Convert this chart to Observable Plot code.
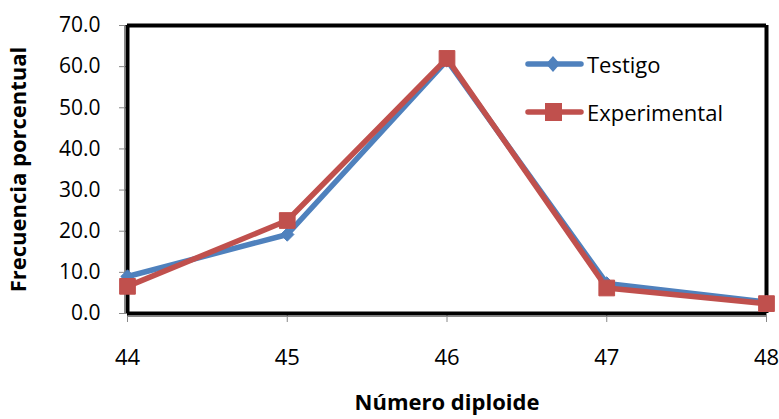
<!DOCTYPE html>
<html><head><meta charset="utf-8">
<script src="https://cdn.jsdelivr.net/npm/d3@7"></script>
<script src="https://cdn.jsdelivr.net/npm/@observablehq/plot@0.6"></script>
<style>
body{margin:0;background:#fff;font-family:"Open Sans",sans-serif;}
#wrap{position:relative;width:779px;height:419px;}
#legend{position:absolute;left:524px;top:40px;font-size:22px;color:#000;font-family:"Open Sans",sans-serif;}
#legend .row{display:flex;align-items:center;height:48px;}
#legend svg{margin-right:2px;}
</style>
</head><body>
<div id="wrap"><div id="chart"></div><div id="legend"></div></div>
<script>
const diploide = [44, 45, 46, 47, 48];
const testigo = [9.0, 19.2, 61.5, 7.3, 2.8];
const experimental = [6.6, 22.6, 62.0, 6.2, 2.4];
const yTicks = [0, 10, 20, 30, 40, 50, 60, 70];
const series = [
  {name: "Testigo", values: testigo, color: "#4F81BD", symbol: "diamond2", r: 6},
  {name: "Experimental", values: experimental, color: "#C0504D", symbol: "square2", r: 10}
];
const rows = series.flatMap(s => diploide.map((d, i) => ({x: d, y: s.values[i], s: s.name})));

const marks = [
  Plot.axisY({ticks: yTicks, tickFormat: d => d.toFixed(1), tickSize: 8, stroke: "#888", fontSize: 21, tickPadding: 19, label: "Frecuencia porcentual", labelAnchor: "center", labelArrow: "none", labelOffset: 117}),
  Plot.axisX({ticks: diploide, tickFormat: d => String(d), tickSize: 9, stroke: "#888", fontSize: 22, tickPadding: 27, label: "Número diploide", labelAnchor: "center", labelArrow: "none", labelOffset: 96}),
  Plot.ruleX([44], {stroke: "#888", strokeWidth: 1, dx: -3}),
  Plot.ruleY([0], {stroke: "#888", strokeWidth: 1, dy: 3}),
  Plot.ruleY([0, 70], {stroke: "#000", strokeWidth: 4}),
  Plot.ruleX([44, 48], {stroke: "#000", strokeWidth: 4})
];
for (const s of series) {
  const data = rows.filter(r => r.s === s.name);
  marks.push(Plot.line(data, {x: "x", y: "y", stroke: s.color, strokeWidth: 5.5}));
}
for (const s of series) {
  const data = rows.filter(r => r.s === s.name);
  marks.push(Plot.dot(data, {x: "x", y: "y", symbol: s.symbol, r: s.r, fill: s.color, stroke: s.color, strokeWidth: 1}));
}
const chart = Plot.plot({
  width: 779, height: 419,
  marginLeft: 127, marginRight: 13, marginTop: 25, marginBottom: 106,
  style: {fontFamily: "'Open Sans', sans-serif", fontSize: "21px", color: "#000", background: "#fff", overflow: "visible"},
  x: {domain: [44, 48], axis: null},
  y: {domain: [0, 70], axis: null},
  marks
});
chart.querySelectorAll("g[aria-label='y-axis label'], g[aria-label='x-axis label']").forEach(g => {
  g.setAttribute("font-weight", "bold");
  g.setAttribute("font-size", "22");
  g.querySelectorAll("text").forEach(t => {t.setAttribute("font-weight", "bold"); t.setAttribute("font-size", "22");});
});
document.getElementById("chart").appendChild(chart);

const lg = document.getElementById("legend");
for (const s of series) {
  const row = document.createElement("div");
  row.className = "row";
  const marker = s.symbol === "square2"
    ? `<rect x="21" y="5" width="17" height="18" fill="${s.color}"/>`
    : `<path d="M29,6 L36,14 L29,22 L22,14Z" fill="${s.color}"/>`;
  row.innerHTML = `<svg width="61" height="28"><line x1="4" x2="57" y1="14" y2="14" stroke="${s.color}" stroke-width="5.5" stroke-linecap="round"/>${marker}</svg><span>${s.name}</span>`;
  lg.appendChild(row);
}
</script>
</body></html>
